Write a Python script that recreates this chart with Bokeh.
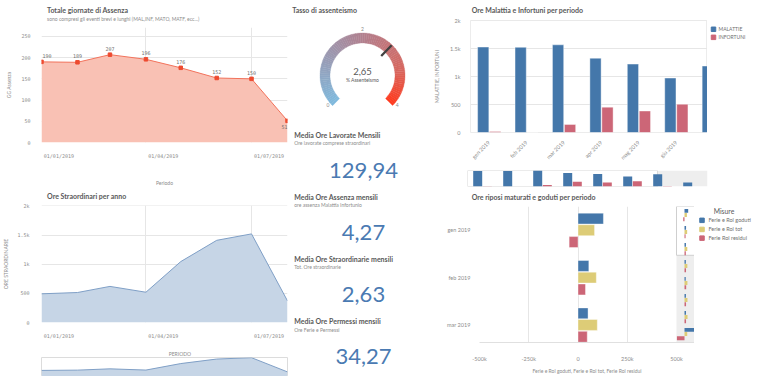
import math
import pandas as pd
from bokeh.plotting import figure
from bokeh.models import Range1d, ColumnDataSource, FixedTicker
from bokeh.layouts import row, column
from bokeh.core.properties import value
from bokeh.embed import file_html
from bokeh.resources import INLINE

SANS = "Lato"
MONO = "DejaVu Sans Mono"
TITLE_C = "#595959"
SUB_C = "#8c8c8c"
TICK_C = "#8c8c8c"
GRID_C = "#e6e6e6"
BLUE = "#4477aa"
RED = "#cc6677"
YELLOW = "#ddcc77"

# ---------------- data ----------------
abs_periods = ["2019-01-01", "2019-02-01", "2019-03-01", "2019-04-01",
               "2019-05-01", "2019-06-01", "2019-07-01", "2019-08-01"]
abs_days = [190, 189, 207, 196, 176, 152, 150, 51]
abs_y_ticks = [0, 50, 100, 150, 200, 250]

ovt_periods = ["2019-01-01", "2019-02-01", "2019-03-01", "2019-04-01",
               "2019-05-01", "2019-06-01", "2019-07-01", "2019-08-01"]
ovt_hours = [492, 514, 619, 519, 1044, 1409, 1519, 370]
k_ticks = [0, 500, 1000, 1500, 2000]
k_labels = ["0", "500", "1k", "1.5k", "2k"]

gauge_value = 2.65
gauge_min, gauge_max = 0, 4
gauge_ticks = [0, 2, 4]

kpi_titles = ["Media Ore Lavorate Mensili", "Media Ore Assenza mensili",
              "Media Ore Straordinarie mensili", "Media Ore Permessi mensili"]
kpi_subtitles = ["Ore lavorate comprese straordinari", "ore assenza Malattia Infortunio",
                 "Tot. Ore straordinarie", "Ore Ferie e Permessi"]
kpi_values = [129.94, 4.27, 2.63, 34.27]

mi_months = ["gen 2019", "feb 2019", "mar 2019", "apr 2019",
             "mag 2019", "giu 2019", "lug 2019", "ago 2019"]
malattie = [1530, 1525, 1570, 1330, 1225, 975, 1190, 385]
infortuni = [17, 0, 144, 454, 385, 506, 50, 0]
mi_series = ["MALATTIE", "INFORTUNI"]

rip_months = ["gen 2019", "feb 2019", "mar 2019", "apr 2019",
              "mag 2019", "giu 2019", "lug 2019", "ago 2019"]
rip_goduti = [129000, 55000, 51000, 47000, 43000, 50000, 52000, 360000]
rip_tot = [84000, 93000, 98000, 100000, 102000, 104000, 106000, 95000]
rip_residui = [-45000, 38000, 47000, 53000, 59000, 54000, 54000, -265000]
rip_series = ["Ferie e Rol goduti", "Ferie e Rol tot", "Ferie Rol residui"]
rip_x_ticks = [-500000, -250000, 0, 250000, 500000]
rip_x_labels = ["-500k", "-250k", "0", "250k", "500k"]


# ---------------- helpers ----------------
def fig(w, h, **kw):
    p = figure(width=w, height=h, toolbar_location=None, output_backend="svg", **kw)
    p.background_fill_color = "white"
    p.border_fill_color = "white"
    return p


def textfig(w, h, flip=True):
    yr = Range1d(h, 0) if flip else Range1d(0, h)
    p = fig(w, h, x_range=Range1d(0, w), y_range=yr,
            x_axis_location=None, y_axis_location=None, min_border=0)
    p.grid.visible = False
    p.outline_line_color = None
    return p


def put(p, x, y, txt, size, color, bold=False, align="left", font=SANS):
    p.text(x=[x], y=[y], text=[txt], text_font=value(font), text_font_size=size,
           text_font_style="bold" if bold else "normal", text_color=color,
           text_align=align, text_baseline="middle")


def style_axes(p, font=SANS, size="5.5px"):
    for ax in p.axis:
        ax.axis_line_color = None
        ax.major_tick_line_color = None
        ax.minor_tick_line_color = None
        ax.major_label_text_font = font
        ax.major_label_text_font_size = size
        ax.major_label_text_color = TICK_C
        ax.axis_label_text_font = SANS
        ax.axis_label_text_font_size = "5px"
        ax.axis_label_text_font_style = "normal"
        ax.axis_label_text_color = TICK_C
    p.grid.grid_line_color = GRID_C
    p.outline_line_color = None


def date_axis(p, dates, shift_days):
    q = list(dates[::3])
    ms = [int(d.timestamp() * 1000) for d in q]
    sh = int(shift_days * 86400 * 1000)
    p.xaxis.ticker = FixedTicker(ticks=[m + sh for m in ms])
    p.xaxis.major_label_overrides = {m + sh: d.strftime("%d/%m/%Y") for m, d in zip(ms, q)}
    p.xgrid.ticker = FixedTicker(ticks=ms)


# ---------------- left column ----------------
L_W = 289
hA = textfig(L_W, 24)
put(hA, 6.5, 9.6, "Totale giornate di Assenza", "7px", TITLE_C, bold=True)
put(hA, 6.5, 18, "sono compresi gli eventi brevi e lunghi (MAL,INF, MATO, MATF, ecc...)", "5px", SUB_C)

dA = pd.to_datetime(abs_periods)
nA = len(abs_days)
srcA = ColumnDataSource(dict(
    x=dA, y=abs_days, lbl=[str(v) for v in abs_days],
    align=["left"] + ["center"] * (nA - 2) + ["right"],
    xoff=[1] + [0] * (nA - 1),
    yoff=[-6] * (nA - 1) + [6]))
pA = fig(L_W, 164, x_axis_type="datetime",
         x_range=Range1d(dA[0].to_pydatetime(), dA[-1].to_pydatetime()),
         y_range=Range1d(0, 271),
         min_border_left=36, min_border_right=2, min_border_top=3, min_border_bottom=37)
pA.varea(x="x", y1=0, y2="y", source=srcA, fill_color="#f9c1b4")
pA.line(x="x", y="y", source=srcA, line_color="#f2735c", line_width=1)
pA.scatter(x="x", y="y", source=srcA, marker="square", size=3.5,
           fill_color="#ee4b30", line_color="#ee4b30")
pA.text(x="x", y="y", text="lbl", source=srcA, text_align="align", x_offset="xoff",
        y_offset="yoff", text_baseline="middle", text_font=value(MONO),
        text_font_size="5px", text_color="#707070")
style_axes(pA, font=MONO, size="5px")
date_axis(pA, dA, 15)
pA.yaxis.ticker = FixedTicker(ticks=abs_y_ticks)
pA.yaxis.axis_label = "GG Assenza"
pA.yaxis.major_label_standoff = 5
pA.yaxis.axis_label_standoff = 6
pA.xaxis.axis_label = "Periodo"
pA.xaxis.major_label_standoff = 4
pA.xaxis.axis_label_standoff = 18

hB = textfig(L_W, 12)
put(hB, 6.5, 7.6, "Ore Straordinari per anno", "7px", TITLE_C, bold=True)

dB = pd.to_datetime(ovt_periods)
srcB = ColumnDataSource(dict(x=dB, y=ovt_hours))
xrB = Range1d(dB[0].to_pydatetime(), dB[-1].to_pydatetime())
pB = fig(L_W, 146, x_axis_type="datetime", x_range=xrB, y_range=Range1d(0, 2006),
         min_border_left=38, min_border_right=2, min_border_top=5, min_border_bottom=24)
pB.varea(x="x", y1=0, y2="y", source=srcB, fill_color="#c6d5e6")
pB.line(x="x", y="y", source=srcB, line_color="#7f9fc6", line_width=1)
style_axes(pB, font=MONO, size="5px")
date_axis(pB, dB, 15)
pB.yaxis.ticker = FixedTicker(ticks=k_ticks)
pB.yaxis.major_label_overrides = {t: l for t, l in zip(k_ticks, k_labels)}
pB.yaxis.axis_label = "ORE STRAORDINARIE"
pB.yaxis.major_label_standoff = 6
pB.yaxis.axis_label_standoff = 5
pB.xaxis.major_label_standoff = 4

hP = textfig(L_W, 10)
put(hP, 38 + (L_W - 40) / 2, 5, "PERIODO", "5px", TICK_C, align="center")

mB = fig(L_W, 20, x_axis_location=None, y_axis_location=None,
         x_range=Range1d(dB[0].to_pydatetime(), dB[-1].to_pydatetime()),
         y_range=Range1d(0, max(ovt_hours) * 1.01),
         min_border_left=38, min_border_right=2, min_border_top=1, min_border_bottom=0)
mB.varea(x="x", y1=0, y2="y", source=srcB, fill_color="#c6d5e6")
mB.line(x="x", y="y", source=srcB, line_color="#7f9fc6", line_width=1)
mB.grid.visible = False
mB.outline_line_color = "#dcdcdc"

left = column(hA, pA, hB, pB, hP, mB)

# ---------------- middle column ----------------
M_W, M_H = 142, 376
pM = textfig(M_W, M_H, flip=False)
Y = lambda ypix: M_H - ypix
put(pM, 2.7, Y(9.6), "Tasso di assenteismo", "7px", TITLE_C, bold=True)

cx, cy = 73, Y(75)
r_in, r_out = 32.5, 42.5
stops = [(0.0, (126, 186, 222)), (0.5, (177, 128, 143)), (0.8, (214, 104, 96)), (1.0, (255, 58, 30))]


def grad(t):
    for (t0, c0), (t1, c1) in zip(stops[:-1], stops[1:]):
        if t <= t1:
            f = (t - t0) / (t1 - t0)
            return "#%02x%02x%02x" % tuple(int(round(a + (b - a) * f)) for a, b in zip(c0, c1))
    return "#%02x%02x%02x" % stops[-1][1]


def ang(v):
    return math.radians(225 - 270 * (v - gauge_min) / (gauge_max - gauge_min))


N = 90
seg_v0 = [gauge_min + (gauge_max - gauge_min) * k / N for k in range(N)]
seg_v1 = [gauge_min + (gauge_max - gauge_min) * (k + 1) / N for k in range(N)]
gsrc = ColumnDataSource(dict(
    s=[ang(v1) for v1 in seg_v1], e=[ang(v0) + 0.004 for v0 in seg_v0],
    c=[grad((v0 + v1) / 2 / (gauge_max - gauge_min)) for v0, v1 in zip(seg_v0, seg_v1)]))
pM.annular_wedge(x=cx, y=cy, inner_radius=r_in, outer_radius=r_out,
                 inner_radius_units="screen", outer_radius_units="screen",
                 start_angle="s", end_angle="e", fill_color="c", line_color="c",
                 line_width=0.3, source=gsrc)
a = ang(gauge_value)
pM.segment(x0=[cx + 27 * math.cos(a)], y0=[cy + 27 * math.sin(a)],
           x1=[cx + 42 * math.cos(a)], y1=[cy + 42 * math.sin(a)],
           line_color="#404040", line_width=2.3)
tl = ColumnDataSource(dict(
    x=[cx + 49 * math.cos(ang(t)) for t in gauge_ticks],
    y=[cy + 49 * math.sin(ang(t)) + (5 if abs(math.cos(ang(t))) > 0.3 else -2) for t in gauge_ticks],
    t=[str(t) for t in gauge_ticks]))
pM.text(x="x", y="y", text="t", source=tl, text_align="center", text_baseline="middle",
        text_font=value(SANS), text_font_size="5px", text_color=TICK_C)
fmt = lambda v: ("%.2f" % v).replace(".", ",")
put(pM, cx, cy + 4, fmt(gauge_value), "9.5px", TITLE_C, align="center")
put(pM, cx, cy - 4, "% Assenteismo", "5px", TITLE_C, align="center")

base = [134 + i * 62.2 for i in range(len(kpi_values))]
ksrc = ColumnDataSource(dict(
    x=[4.7] * len(base), yt=[Y(b) for b in base], ys=[Y(b + 8.5) for b in base],
    yn=[Y(b + 35.5) for b in base], xn=[74] * len(base),
    t=kpi_titles, s=kpi_subtitles, n=[fmt(v) for v in kpi_values]))
pM.text(x="x", y="yt", text="t", source=ksrc, text_font=value(SANS), text_font_size="7px",
        text_font_style="bold", text_color=TITLE_C, text_baseline="middle")
pM.text(x="x", y="ys", text="s", source=ksrc, text_font=value(SANS), text_font_size="5px",
        text_color=SUB_C, text_baseline="middle")
pM.text(x="xn", y="yn", text="n", source=ksrc, text_font=value(SANS), text_font_size="22px",
        text_color="#4a7ab2", text_baseline="middle", text_align="center")

# ---------------- right column ----------------
R_W = 321
hC = textfig(R_W, 15)
put(hC, 5.6, 9.6, "Ore Malattia e Infortuni per periodo", "7px", TITLE_C, bold=True)

C_W, C_H = 276, 153
C_FW = C_W - 36
C_PX = 37.9
vis_C = C_FW / C_PX
nC = len(mi_months)
srcC = ColumnDataSource(dict(
    xm=[i + 0.5 - 0.16 for i in range(nC)], xi=[i + 0.5 + 0.16 for i in range(nC)],
    m=malattie, inf=infortuni))
pC = fig(C_W, C_H, x_range=Range1d(0, vis_C), y_range=Range1d(0, 2006),
         min_border_left=36, min_border_right=0, min_border_top=5, min_border_bottom=36)
pC.vbar(x="xm", top="m", width=0.3, source=srcC, fill_color=BLUE, line_color="white", line_width=0.4)
pC.vbar(x="xi", top="inf", width=0.3, source=srcC, fill_color=RED, line_color="white", line_width=0.4)
style_axes(pC)
pC.outline_line_color = "#ececec"
pC.xgrid.visible = False
pC.xaxis.ticker = FixedTicker(ticks=[i + 0.5 for i in range(nC)])
pC.xaxis.major_label_overrides = {i + 0.5: m for i, m in enumerate(mi_months)}
pC.xaxis.major_label_orientation = math.pi / 4
pC.xaxis.major_label_standoff = 3
pC.yaxis.ticker = FixedTicker(ticks=k_ticks)
pC.yaxis.major_label_overrides = {t: l for t, l in zip(k_ticks, k_labels)}
pC.yaxis.axis_label = "MALATTIE, INFORTUNI"
pC.yaxis.major_label_standoff = 4
pC.yaxis.axis_label_standoff = 7

lC = textfig(45, C_H)
lsrc = ColumnDataSource(dict(x=[6] * 2, y=[12, 23], c=[BLUE, RED], t=mi_series, xt=[11] * 2))
lC.scatter(x="x", y="y", source=lsrc, marker="square", size=4.5, fill_color="c", line_color="c")
lC.text(x="xt", y="y", text="t", source=lsrc, text_font=value(SANS), text_font_size="5px",
        text_color="#707070", text_baseline="middle")

mC = fig(R_W, 20, x_axis_location=None, y_axis_location=None,
         x_range=Range1d(0, nC), y_range=Range1d(0, max(malattie)),
         min_border_left=36, min_border_right=45, min_border_top=2, min_border_bottom=2)
mC.grid.visible = False
mC.outline_line_color = None
mC.quad(left=[vis_C], right=[nC], bottom=[0], top=[max(malattie)], fill_color="#eeeeee", line_color=None)
mC.quad(left=[0], right=[vis_C], bottom=[0], top=[max(malattie)], fill_color="white",
        line_color="#d8d8d8", line_width=1)
mC.vbar(x="xm", top="m", width=0.3, source=srcC, fill_color=BLUE, line_color=None)
mC.vbar(x="xi", top="inf", width=0.3, source=srcC, fill_color=RED, line_color=None)

hD = textfig(R_W, 16)
put(hD, 5.6, 8.6, "Ore riposi maturati e goduti per periodo", "7px", TITLE_C, bold=True)

D_W, D_H = 263, 172
D_FW = D_W - 48
MINI_W = 18
MAIN_W = D_FW - MINI_W
x_lo, x_hi = rip_x_ticks[0], rip_x_ticks[-1]
x_end = x_hi + MINI_W * (x_hi - x_lo) / MAIN_W
vis_D = 2.87
nD = len(rip_months)
pD = fig(D_W, D_H, x_range=Range1d(x_lo, x_end), y_range=Range1d(vis_D, 0),
         min_border_left=48, min_border_right=0, min_border_top=2, min_border_bottom=28)
mini_lo, mini_hi = -280000, 350000
mini_per_px = (mini_hi - mini_lo) / MINI_W
pD.extra_x_ranges = {"mini": Range1d(mini_lo - MAIN_W * mini_per_px, mini_hi)}
pD.extra_y_ranges = {"mini": Range1d(nD, 0)}
offs = [-0.245, 0.0, 0.25]
cols = [BLUE, YELLOW, RED]
vals = [rip_goduti, rip_tot, rip_residui]
for off, col, vv in zip(offs, cols, vals):
    s = ColumnDataSource(dict(y=[i + 0.5 + off for i in range(nD)], v=vv))
    pD.hbar(y="y", left=0, right="v", height=0.23, source=s, fill_color=col,
            line_color="white", line_width=0.4)
pD.quad(left=[mini_lo], right=[mini_hi], bottom=[nD], top=[vis_D], fill_color="#eeeeee",
        line_color=None, x_range_name="mini", y_range_name="mini")
pD.quad(left=[mini_lo], right=[mini_hi], bottom=[vis_D], top=[0], fill_color="white",
        line_color="#cfcfcf", line_width=1, x_range_name="mini", y_range_name="mini")
for off, col, vv in zip(offs, cols, vals):
    s = ColumnDataSource(dict(y=[i + 0.5 + off for i in range(nD)], v=vv))
    pD.hbar(y="y", left=0, right="v", height=0.23, source=s, fill_color=col,
            line_color=None, x_range_name="mini", y_range_name="mini")
style_axes(pD)
pD.ygrid.visible = False
pD.xgrid.ticker = FixedTicker(ticks=rip_x_ticks[:-1])
pD.xaxis.ticker = FixedTicker(ticks=rip_x_ticks)
pD.xaxis.major_label_overrides = {t: l for t, l in zip(rip_x_ticks, rip_x_labels)}
pD.xaxis.axis_line_color = "#e0e0e0"
pD.xaxis.major_label_standoff = 7
pD.xaxis.axis_label = ", ".join(rip_series)
pD.xaxis.axis_label_standoff = 3
pD.yaxis.ticker = FixedTicker(ticks=[i + 0.5 for i in range(nD)])
pD.yaxis.major_label_overrides = {i + 0.5: m for i, m in enumerate(rip_months)}
pD.yaxis.major_label_standoff = 3

lD = textfig(R_W - D_W, D_H)
put(lD, 19.2, 6, "Misure", "6.8px", TITLE_C)
ldsrc = ColumnDataSource(dict(x=[7.5] * 3, y=[17.5, 29, 40], c=cols, t=rip_series, xt=[14] * 3))
lD.scatter(x="x", y="y", source=ldsrc, marker="square", size=4.5, fill_color="c", line_color="c")
lD.text(x="xt", y="y", text="t", source=ldsrc, text_font=value(SANS), text_font_size="5.5px",
        text_color="#707070", text_baseline="middle")

right = column(hC, row(pC, lC), mC, hD, row(pD, lD))

layout = row(left, pM, right)
open("out.html", "w").write(file_html(layout, INLINE))
